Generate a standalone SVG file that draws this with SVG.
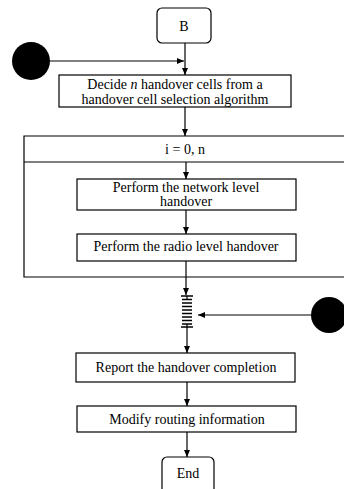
<svg xmlns="http://www.w3.org/2000/svg" width="344" height="489" viewBox="0 0 344 489">
<defs>
<marker id="ah" markerWidth="8" markerHeight="8" refX="7" refY="4" orient="auto" markerUnits="userSpaceOnUse">
<path d="M0,1 L7,4 L0,7 Z" fill="#000"/>
</marker>
<style>
.box{fill:#fff;stroke:#000;stroke-width:1.2}
.t{font-family:"Liberation Serif","Times New Roman",serif;font-size:14px;fill:#000;text-anchor:middle}
.c{stroke:#000;stroke-width:1.2;fill:none}
.a{stroke:#000;stroke-width:1.2;fill:none;marker-end:url(#ah)}
.bar{stroke:#000;stroke-width:1.3}
</style>
</defs>
<rect width="344" height="489" fill="#fff"/>
<g id="loop">
<path class="c" d="M344,136 H24 V277 H344"/>
<path class="c" d="M24,162 H344"/>
<text class="t" x="185" y="154">i = 0, n</text>
</g>
<g id="connectors">
<path class="a" d="M50,61 H184"/>
<path class="a" d="M185,43 V75"/>
<path class="a" d="M185,107 V136"/>
<path class="a" d="M186,162 V179"/>
<path class="a" d="M186,210 V234"/>
<path class="a" d="M186,261 V295"/>
<path class="a" d="M311,315 H198"/>
<path class="a" d="M187,327 V353"/>
<path class="a" d="M187,382 V406"/>
<path class="a" d="M187,432 V457"/>
</g>
<g id="start">
<rect class="box" x="157" y="8" width="54" height="35" rx="5"/>
<text class="t" x="184" y="31">B</text>
</g>
<g id="entry-left"><circle cx="31" cy="61" r="19" fill="#000"/></g>
<g id="entry-right"><circle cx="329" cy="315" r="18" fill="#000"/></g>
<g id="decide">
<rect class="box" x="59" y="75" width="232" height="32"/>
<text class="t" x="175" y="88.5">Decide <tspan font-style="italic">n</tspan> handover cells from a<tspan x="175" dy="15">handover cell selection algorithm</tspan></text>
</g>
<g id="network">
<rect class="box" x="77" y="179" width="219" height="31"/>
<text class="t" x="186" y="192">Perform the network level<tspan x="186" dy="14">handover</tspan></text>
</g>
<g id="radio">
<rect class="box" x="77" y="234" width="219" height="27"/>
<text class="t" x="186" y="251">Perform the radio level handover</text>
</g>
<g id="sync">
<path class="bar" d="M181,296 H193 M182,299.5 H192 M182,303 H192 M182,306.5 H192 M182,310 H192 M182,313.5 H192 M182,317 H192 M182,320.5 H192 M182,324 H192 M181,327 H193"/>
<path class="c" d="M187,296 V299 M187,324 V327"/>
</g>
<g id="report">
<rect class="box" x="76" y="353" width="219" height="29"/>
<text class="t" x="186" y="372">Report the handover completion</text>
</g>
<g id="modify">
<rect class="box" x="77" y="406" width="219" height="26"/>
<text class="t" x="187" y="424">Modify routing information</text>
</g>
<g id="end">
<rect class="box" x="162" y="457" width="52" height="40" rx="5"/>
<text class="t" x="188" y="478">End</text>
</g>
</svg>
